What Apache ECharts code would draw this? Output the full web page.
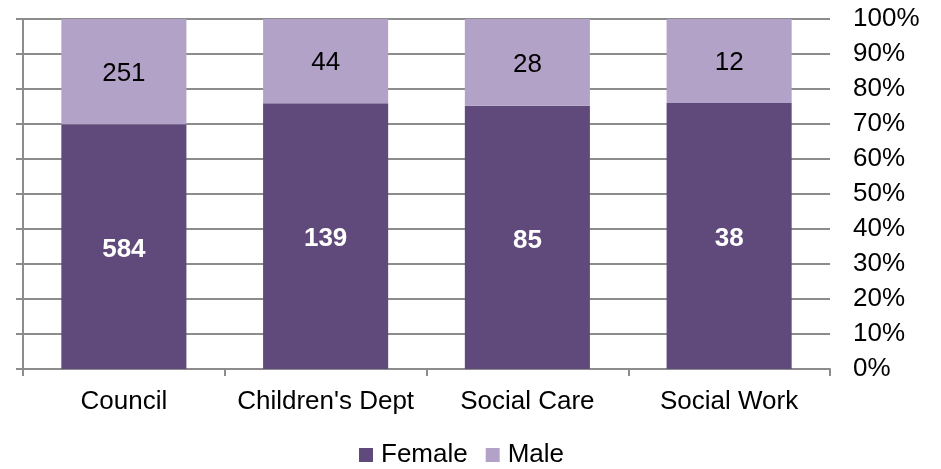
<!DOCTYPE html>
<html>
<head>
<meta charset="utf-8">
<script src="https://cdn.jsdelivr.net/npm/echarts@6/dist/echarts.min.js"></script>
<style>
  html, body { margin: 0; padding: 0; background: #fff; }
  #chart { width: 941px; height: 469px; }
</style>
</head>
<body>
<div id="chart"></div>
<script>
// Staff counts by department and gender
const categories = ['Council', "Children's Dept", 'Social Care', 'Social Work'];
const femaleCounts = [584, 139, 85, 38];
const maleCounts = [251, 44, 28, 12];
const percentTicks = [0, 10, 20, 30, 40, 50, 60, 70, 80, 90, 100];

// Share of each department's total, in percent
const totals = femaleCounts.map((f, i) => f + maleCounts[i]);
const femaleShare = femaleCounts.map((v, i) => ({ value: v / totals[i] * 100, count: v }));
const maleShare = maleCounts.map((v, i) => ({ value: v / totals[i] * 100, count: v }));

const FONT = 'Liberation Sans, Arial, sans-serif';
const FS = 26;
const GRID_COLOR = '#8c8c8c';

const chart = echarts.init(document.getElementById('chart'));
chart.setOption({
  animation: false,
  textStyle: { fontFamily: FONT },
  grid: { left: 23, right: 111, top: 19, bottom: 100, containLabel: false },
  legend: {
    top: 437,
    left: 354,
    itemWidth: 14,
    itemHeight: 14,
    itemGap: 18,
    icon: 'rect',
    textStyle: { fontSize: FS, color: '#000', fontFamily: FONT, padding: [0, 0, 0, 3] },
    data: ['Female', 'Male']
  },
  xAxis: {
    type: 'category',
    data: categories,
    axisLine: { lineStyle: { color: GRID_COLOR, width: 2 } },
    axisTick: { show: true, interval: 0, alignWithLabel: false, length: 7, lineStyle: { color: GRID_COLOR, width: 2 } },
    axisLabel: { color: '#000', fontSize: FS, interval: 0, margin: 20, fontFamily: FONT }
  },
  yAxis: [
    {
      type: 'value',
      position: 'left',
      min: percentTicks[0],
      max: percentTicks[percentTicks.length - 1],
      interval: 10,
      axisLine: { show: true, lineStyle: { color: GRID_COLOR, width: 2 } },
      axisTick: { show: true, length: 7, lineStyle: { color: GRID_COLOR, width: 2 } },
      axisLabel: { show: false },
      splitLine: { show: true, lineStyle: { color: GRID_COLOR, width: 2 } }
    },
    {
      type: 'value',
      position: 'right',
      min: percentTicks[0],
      max: percentTicks[percentTicks.length - 1],
      interval: 10,
      axisLine: { show: false },
      axisTick: { show: false },
      splitLine: { show: false },
      axisLabel: { color: '#000', fontSize: FS, margin: 23, formatter: '{value}%', fontFamily: FONT }
    }
  ],
  series: [
    {
      name: 'Female',
      type: 'bar',
      stack: 'share',
      barWidth: '62%',
      itemStyle: { color: '#604a7b' },
      label: {
        show: true,
        position: 'inside',
        offset: [0, 3],
        color: '#fff',
        fontWeight: 'bold',
        fontSize: FS,
        fontFamily: FONT,
        formatter: p => p.data.count
      },
      data: femaleShare
    },
    {
      name: 'Male',
      type: 'bar',
      stack: 'share',
      itemStyle: { color: '#b3a2c7' },
      label: {
        show: true,
        position: 'inside',
        offset: [0, 2],
        color: '#000',
        fontSize: FS,
        fontFamily: FONT,
        formatter: p => p.data.count
      },
      data: maleShare
    }
  ]
});
</script>
</body>
</html>
